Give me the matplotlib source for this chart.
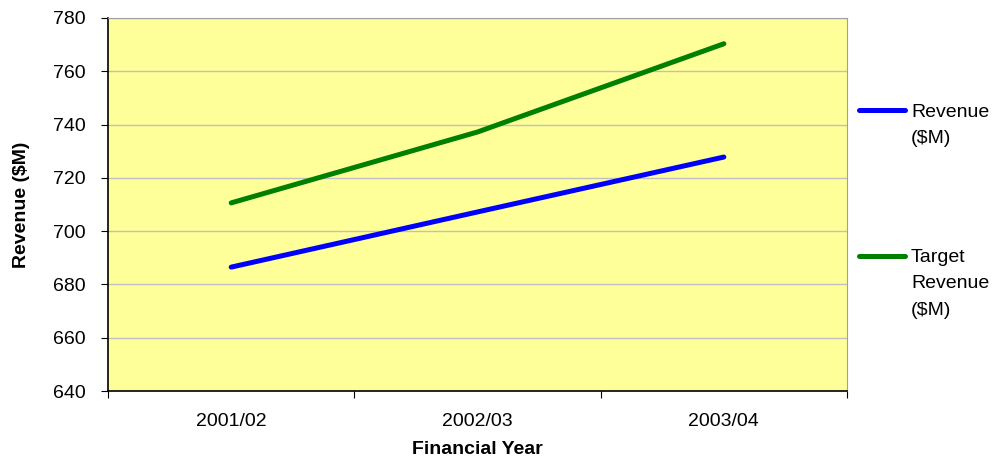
import matplotlib
matplotlib.use("Agg")
import matplotlib.pyplot as plt
from matplotlib.lines import Line2D

plt.rcParams["font.family"] = ["Liberation Sans", "DejaVu Sans"]

years = ["2001/02", "2002/03", "2003/04"]
revenue = [686.5, 707.2, 727.8]
target_revenue = [710.6, 737.2, 770.3]

series = [
    ("Revenue\n($M)", revenue, "#0000FF"),
    ("Target\nRevenue\n($M)", target_revenue, "#008000"),
]

FS = 14

fig = plt.figure(figsize=(9.93, 4.59), dpi=100)
ax = fig.add_axes([0.1088, 0.148, 0.7442, 0.813])
ax.set_facecolor("#FFFF99")

x = [i + 0.5 for i in range(len(years))]
for label, values, color in series:
    ax.plot(x, values, color=color, lw=3.6, solid_capstyle="round", zorder=3)

ax.set_xlim(0, len(years))
ax.set_ylim(640, 780)
ax.set_yticks(range(640, 781, 20))
ax.set_xticks(range(len(years) + 1))
ax.set_xticklabels([])
ax.set_xticks(x, minor=True)
ax.set_xticklabels(years, minor=True)
ax.tick_params(axis="x", which="minor", length=0, pad=16, labelsize=FS)
ax.tick_params(axis="x", which="major", length=5, direction="out", color="black")
ax.tick_params(axis="y", length=5, direction="out", labelsize=FS, pad=11)

ax.grid(axis="y", color="#C0C0C0", lw=1, zorder=1)
ax.set_axisbelow(True)
for side in ("top", "right"):
    ax.spines[side].set_color("#A0A0A0")
for side in ("left", "bottom"):
    ax.spines[side].set_color("black")
    ax.spines[side].set_linewidth(1.2)

pos = ax.get_position()
ax.set_ylabel("Revenue ($M)", fontsize=FS, fontweight="bold", va="center")
ax.yaxis.set_label_coords(22 / 993, pos.y0 + pos.height / 2,
                          transform=fig.transFigure)
ax.set_xlabel("Financial Year", fontsize=FS, fontweight="bold", va="center")
ax.xaxis.set_label_coords(pos.x0 + pos.width / 2, 1 - 450 / 459,
                          transform=fig.transFigure)

# legend drawn by hand: handle aligned with the first text line
legend_rows = [(110, 104), (256, 249)]
for (label, values, color), (line_px, text_px) in zip(series, legend_rows):
    ly = 1 - line_px / 459
    fig.add_artist(Line2D([859 / 993, 905 / 993], [ly, ly], color=color, lw=3.6,
                          solid_capstyle="round", transform=fig.transFigure))
    fig.text(911 / 993, 1 - text_px / 459, label, fontsize=FS, va="top",
             ha="left", linespacing=1.72)

fig.savefig("out.png", dpi=100)
